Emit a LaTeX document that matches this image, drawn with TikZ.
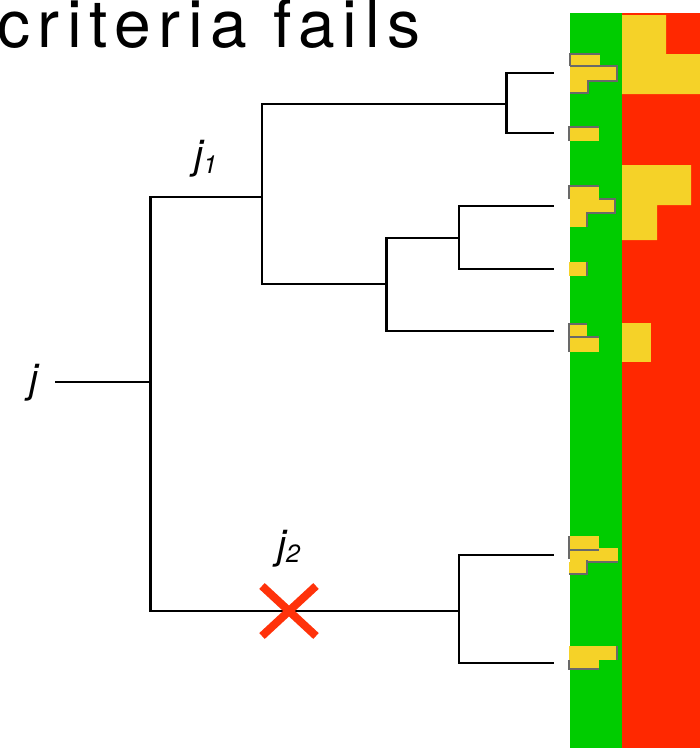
\documentclass[tikz,border=0pt]{standalone}
\usepackage{fontspec}
\setmainfont{TeX Gyre Heros}
\newfontfamily\titlefont[LetterSpace=11.5]{TeX Gyre Heros}
\definecolor{barGreen}{RGB}{0,204,0}
\definecolor{barRed}{RGB}{255,40,0}
\definecolor{barYellow}{RGB}{245,210,40}
\definecolor{crossRed}{RGB}{255,50,10}
\definecolor{edgeGray}{RGB}{105,105,105}
\begin{document}
\begin{tikzpicture}[x=1pt,y=-1pt,
  branch/.style={line width=2.5pt,black},
  ybox/.style={fill=barYellow},
  gline/.style={draw=edgeGray,line width=1.2pt},
  lbl/.style={inner sep=0pt,anchor=base west,font=\itshape}]
\useasboundingbox (0,0) rectangle (700,748);
% title
\node[inner sep=0pt,anchor=base west] (title) at (-3,47) {\titlefont\fontsize{66}{66}\selectfont criteria fails};
% bars
\fill[barGreen] (570,13) rectangle (622,748);
\fill[barRed] (622,13) rectangle (700,748);
% yellow in red bar
\fill[ybox] (622,15) -- (666,15) -- (666,54) -- (700,54) -- (700,94) -- (622,94) -- cycle;
\fill[ybox] (622,165) -- (691,165) -- (691,205) -- (657,205) -- (657,240) -- (622,240) -- cycle;
\fill[ybox] (622,323) rectangle (651,362);
% yellow in green bar, group 1
\fill[ybox] (570,54) rectangle (600,66);
\fill[ybox] (570,66) rectangle (617,81);
\fill[ybox] (570,81) rectangle (588,93);
\draw[gline] (570,66) -- (570,54) -- (600,54);
\draw[gline] (570,66) -- (617,66) -- (617,81) -- (588,81) -- (588,93) -- (570,93);
% D
\fill[ybox] (569,127) rectangle (599,141);
\draw[gline] (569,141) -- (569,127) -- (599,127);
% group 2
\fill[ybox] (569,186) rectangle (599,199);
\fill[ybox] (570,199) rectangle (615,213);
\fill[ybox] (570,213) rectangle (587,227);
\draw[gline] (569,199) -- (569,186) -- (599,186);
\draw[gline] (599,199) -- (615,199) -- (615,213) -- (587,213) -- (587,227);
% D2
\fill[ybox] (569,262) rectangle (587,276);
\draw[gline] (587,262) -- (587,276);
% E/F
\fill[ybox] (569,324) rectangle (587,337);
\fill[ybox] (569,337) rectangle (599,352);
\draw[gline] (569,352) -- (569,324) -- (587,324);
\draw[gline] (570,337) -- (599,337);
% G/H/I
\fill[ybox] (569,536) rectangle (599,550);
\fill[ybox] (570,548) rectangle (618,562);
\fill[ybox] (569,562) rectangle (587,574);
\draw[gline] (569,536) -- (569,559);
\draw[gline] (570,550) -- (599,550);
\draw[gline] (587,562) -- (618,562);
\draw[gline] (587,560) -- (587,574) -- (569,574);
% J/K
\fill[ybox] (569,646) rectangle (617,660);
\fill[ybox] (569,660) rectangle (599,669);
\draw[gline] (617,646) -- (617,660);
\draw[gline] (569,660) -- (569,669) -- (599,669);
% tree coordinates
\coordinate (jin) at (55,382);
\coordinate (j) at (150.7,382);
\coordinate (j1) at (262,197);
\coordinate (j2) at (459,611);
\coordinate (a) at (506.5,104);
\coordinate (b) at (386.5,284);
\coordinate (c) at (459,238);
\coordinate (L1) at (554,73);
\coordinate (L2) at (554,133);
\coordinate (L3) at (554,206);
\coordinate (L4) at (554,269);
\coordinate (L5) at (554,331);
\coordinate (L6) at (554,555);
\coordinate (L7) at (554,663);
\draw[branch] (jin) -- (j);
\draw[branch] (j) |- (j1);
\draw[branch] (j) |- (j2);
\draw[branch] (j1) |- (a);
\draw[branch] (j1) |- (b);
\draw[branch] (a) |- (L1);
\draw[branch] (a) |- (L2);
\draw[branch] (b) |- (c);
\draw[branch] (b) |- (L5);
\draw[branch] (c) |- (L3);
\draw[branch] (c) |- (L4);
\draw[branch] (j2) |- (L6);
\draw[branch] (j2) |- (L7);
% labels
\node[lbl] (lj) at (29,392) {\fontsize{40}{40}\selectfont j};
\node[lbl] (lj1) at (194,168.5) {\fontsize{40}{40}\selectfont j\raisebox{-4.5pt}{\fontsize{25}{25}\selectfont 1}};
\node[lbl] (lj2) at (277,558.5) {\fontsize{40}{40}\selectfont j\raisebox{-4pt}{\fontsize{25}{25}\selectfont 2}};
% cross
\coordinate (x) at (289,611);
\draw[crossRed,line width=8pt] ([shift={(-27,-25)}]x) -- ([shift={(27,25)}]x);
\draw[crossRed,line width=8pt] ([shift={(-27,25)}]x) -- ([shift={(27,-25)}]x);
\end{tikzpicture}
\end{document}
